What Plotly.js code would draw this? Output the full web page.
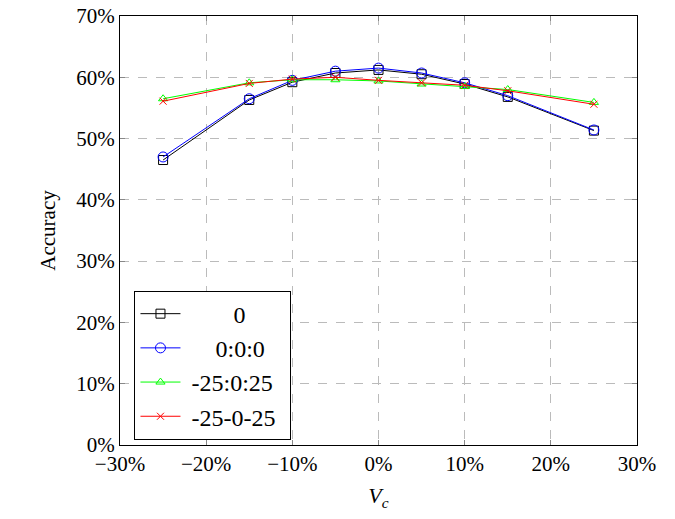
<!DOCTYPE html>
<html><head><meta charset="utf-8">
<script src="https://cdn.plot.ly/plotly-3.0.1.min.js"></script>
<style>body{margin:0;background:#fff}#c{width:675px;height:519px}</style>
</head><body><div id="c"></div>
<script>
const vc = [-25, -15, -10, -5, 0, 5, 10, 15, 25];
const acc0 = [46.5, 56.3, 59.2, 60.7, 61.2, 60.5, 58.9, 56.8, 51.3];
const acc000 = [47.0, 56.5, 59.5, 61.0, 61.5, 60.7, 59.1, 57.0, 51.4];
const accG = [56.5, 59.1, 59.6, 59.6, 59.4, 58.9, 58.5, 58.0, 55.9];
const accR = [56.1, 59.0, 59.7, 60.0, 59.5, 59.1, 58.7, 57.8, 55.6];
const names = ["0", "0:0:0", "-25:0:25", "-25-0-25"];

const font = {family: "'Liberation Serif', 'DejaVu Serif', serif", color: "#000"};
function tr(y, name, color, symbol, size, grp) {
  return {x: vc, y: y, name: name, mode: "lines+markers", type: "scatter",
    legendgroup: grp,
    line: {color: color, width: 1},
    marker: {symbol: symbol, size: size, color: color, line: {color: color, width: 1}}};
}
const sp = n => "\u00a0".repeat(n);
const data = [
  tr(acc0, sp(8) + names[0], "#000", "square-open", 9, "a"),
  tr(acc000, sp(5) + names[1], "#0000ff", "circle-open", 10, "b"),
  tr(accG, sp(1) + names[2] + sp(2), "#00ff00", "triangle-up-open", 8, "c"),
  tr(accR, sp(1) + names[3], "#ff0000", "x-thin-open", 7, "d")
];
const axis = {
  showline: true, linecolor: "#000", linewidth: 1, mirror: "ticks",
  ticks: "inside", ticklen: 5, tickcolor: "#888",
  showgrid: true, gridcolor: "#bbb", griddash: "dash", gridwidth: 1,
  zeroline: false, ticksuffix: "%", tickfont: Object.assign({size: 21}, font)
};
const layout = {
  width: 675, height: 519,
  margin: {l: 120, r: 38, t: 16, b: 74},
  paper_bgcolor: "#fff", plot_bgcolor: "#fff",
  font: font,
  xaxis: Object.assign({}, axis, {range: [-30, 30], dtick: 10, tick0: -30,
    title: {text: "<i>V<sub>c</sub></i>", font: Object.assign({size: 22}, font), standoff: 12}}),
  yaxis: Object.assign({}, axis, {range: [0, 70], dtick: 10, tick0: 0,
    title: {text: "Accuracy", font: Object.assign({size: 21}, font), standoff: 14}}),
  legend: {x: 0.028, y: 0.36, xanchor: "left", yanchor: "top",
    bgcolor: "#fff", bordercolor: "#000", borderwidth: 1,
    font: Object.assign({size: 24}, font), tracegroupgap: 0, itemwidth: 40},
  showlegend: true
};
Plotly.newPlot("c", data, layout, {displayModeBar: false, staticPlot: true});
</script>
</body></html>
